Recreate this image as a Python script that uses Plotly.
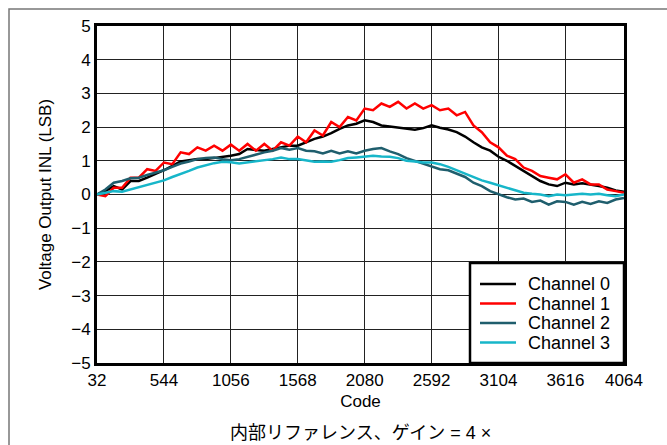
import plotly.graph_objects as go

codes = [32 + 64 * i for i in range(64)]

channel0 = [0.0, 0.1, 0.25, 0.15, 0.4, 0.4, 0.5, 0.6, 0.72, 0.85,
            0.98, 1.02, 1.05, 1.05, 1.08, 1.1, 1.15, 1.2, 1.35, 1.32,
            1.3, 1.35, 1.4, 1.45, 1.45, 1.55, 1.65, 1.72, 1.82, 1.95,
            2.05, 2.1, 2.2, 2.15, 2.05, 2.02, 1.98, 1.95, 1.92, 1.97,
            2.05, 1.98, 1.93, 1.85, 1.72, 1.55, 1.4, 1.3, 1.12, 1.0,
            0.85, 0.7, 0.55, 0.4, 0.3, 0.25, 0.35, 0.3, 0.33, 0.3,
            0.25, 0.2, 0.12, 0.08]

channel1 = [0.0, -0.05, 0.2, 0.2, 0.5, 0.5, 0.75, 0.7, 0.95, 0.9,
            1.25, 1.2, 1.4, 1.3, 1.45, 1.3, 1.48, 1.3, 1.5, 1.3,
            1.5, 1.3, 1.55, 1.45, 1.72, 1.55, 1.9, 1.75, 2.15, 2.0,
            2.3, 2.2, 2.55, 2.5, 2.7, 2.6, 2.75, 2.55, 2.7, 2.55,
            2.65, 2.5, 2.55, 2.35, 2.45, 2.05, 1.85, 1.55, 1.4, 1.15,
            1.05, 0.8, 0.7, 0.55, 0.5, 0.45, 0.6, 0.35, 0.45, 0.3,
            0.3, 0.15, 0.1, 0.05]

channel2 = [0.0, 0.15, 0.35, 0.4, 0.48, 0.5, 0.58, 0.65, 0.72, 0.82,
            0.92, 0.98, 1.05, 1.08, 1.1, 1.05, 1.02, 1.05, 1.12, 1.18,
            1.25, 1.3, 1.38, 1.33, 1.38, 1.3, 1.28, 1.22, 1.3, 1.22,
            1.28, 1.22, 1.3, 1.35, 1.38, 1.28, 1.2, 1.08, 1.0, 0.9,
            0.82, 0.75, 0.72, 0.62, 0.52, 0.35, 0.25, 0.1, 0.0, -0.08,
            -0.15, -0.12, -0.22, -0.18, -0.3, -0.2, -0.22, -0.3, -0.22, -0.28,
            -0.2, -0.25, -0.15, -0.1]

channel3 = [0.0, 0.05, 0.1, 0.08, 0.15, 0.22, 0.3, 0.35, 0.42, 0.52,
            0.6, 0.7, 0.8, 0.87, 0.93, 0.97, 0.96, 0.92, 0.95, 0.98,
            1.02, 1.05, 1.1, 1.05, 1.05, 1.0, 0.97, 0.98, 0.97, 1.02,
            1.08, 1.1, 1.12, 1.15, 1.13, 1.12, 1.08, 1.0, 0.98, 0.95,
            0.95, 0.9, 0.82, 0.72, 0.6, 0.5, 0.42, 0.35, 0.28, 0.2,
            0.12, 0.05, 0.02, 0.0, -0.05, 0.0, -0.02, 0.0, 0.02, 0.0,
            0.02, -0.02, -0.05, 0.0]

series_names = ["Channel 0", "Channel 1", "Channel 2", "Channel 3"]
series_values = [channel0, channel1, channel2, channel3]
series_colors = ["#000000", "#ff0000", "#1f5e6d", "#17b6c9"]

x_ticks = [32, 544, 1056, 1568, 2080, 2592, 3104, 3616, 4064]
y_ticks = [-5, -4, -3, -2, -1, 0, 1, 2, 3, 4, 5]

FONT = "Liberation Sans, Arial, sans-serif"

fig = go.Figure()
for name, vals, col in zip(series_names, series_values, series_colors):
    fig.add_trace(go.Scatter(x=codes, y=vals, mode="lines", name=name,
                             line=dict(color=col, width=2.5)))

W, H = 667, 445
L, R, T, B = 97, 624, 26, 363
pw, ph = R - L, B - T

def px(x):
    return (x - L) / pw

def py(y):
    return (B - y) / ph

shapes = [dict(type="rect", xref="paper", yref="paper",
               x0=px(9), y0=py(470), x1=px(700), y1=py(9),
               line=dict(color="#777", width=1.5), layer="below")]
annotations = [dict(text="内部リファレンス、ゲイン = 4 ×", xref="paper", yref="paper",
                    x=0.5, y=py(433), xanchor="center", yanchor="middle",
                    showarrow=False,
                    font=dict(family="Liberation Sans, Noto Sans CJK JP", size=18,
                              color="black"))]

# manual legend (box, samples, labels)
shapes.append(dict(type="rect", xref="paper", yref="paper",
                   x0=px(470), y0=py(363), x1=px(624), y1=py(263),
                   fillcolor="white", line=dict(color="black", width=2.5),
                   layer="above"))
row_y = [284, 303.5, 323, 342.5]
for yy, name, col in zip(row_y, series_names, series_colors):
    shapes.append(dict(type="line", xref="paper", yref="paper",
                       x0=px(480), x1=px(516), y0=py(yy), y1=py(yy),
                       line=dict(color=col, width=2.5), layer="above"))
    annotations.append(dict(text=name, xref="paper", yref="paper",
                            x=px(526), y=py(yy), xanchor="left", yanchor="middle",
                            showarrow=False,
                            font=dict(family=FONT, size=18, color="black")))

fig.update_layout(
    width=W, height=H,
    margin=dict(l=L, r=W - R, t=T, b=H - B),
    paper_bgcolor="white", plot_bgcolor="white",
    font=dict(family=FONT, size=17, color="black"),
    showlegend=False,
    xaxis=dict(range=[32, 4064], tickmode="array", tickvals=x_ticks,
               ticktext=[str(v) for v in x_ticks],
               showgrid=True, gridcolor="#222", gridwidth=1,
               showline=True, linecolor="black", linewidth=3, mirror=True,
               ticks="", zeroline=False,
               title=dict(text="Code", standoff=6, font=dict(size=17))),
    yaxis=dict(range=[-5, 5], tickmode="array", tickvals=y_ticks,
               showgrid=True, gridcolor="#222", gridwidth=1,
               showline=True, linecolor="black", linewidth=3, mirror=True,
               ticks="", zeroline=False,
               title=dict(text="Voltage Output INL (LSB)", standoff=16,
                          font=dict(size=17))),
    shapes=shapes,
    annotations=annotations,
)

fig.write_html("out.html")
